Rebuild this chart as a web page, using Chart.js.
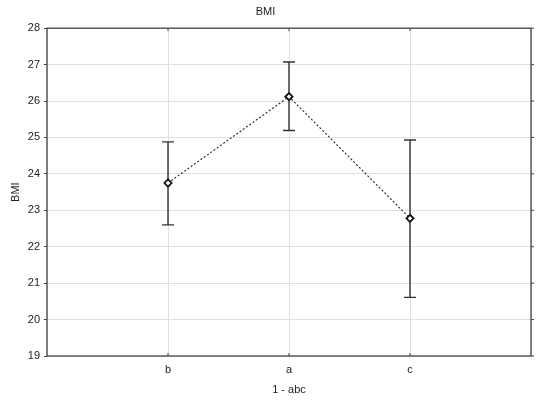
<!DOCTYPE html>
<html>
<head>
<meta charset="utf-8">
<script src="https://cdn.jsdelivr.net/npm/chart.js@4"></script>
<style>
  html, body { margin: 0; padding: 0; background: #fff; }
</style>
</head>
<body>
<canvas id="chart" width="550" height="407"></canvas>
<script>
const categories = ['b', 'a', 'c'];
const means = [23.75, 26.12, 22.78];
const lows = [22.60, 25.19, 20.61];
const highs = [24.88, 27.07, 24.93];
const yTicks = [19, 20, 21, 22, 23, 24, 25, 26, 27, 28];

const FONT = 'Liberation Sans, Arial, sans-serif';
const TEXT = '#222';

// category i sits at x = i + 1 on a 0..4 axis
const points = means.map((v, i) => ({ x: i + 1, y: v }));

const frame = {
    id: 'frame',
    afterDatasetsDraw(chart) {
        const { ctx, chartArea: a, scales } = chart;
        ctx.save();
        // error bars
        ctx.strokeStyle = '#333';
        ctx.lineWidth = 1.4;
        categories.forEach((c, i) => {
            const x = scales.x.getPixelForValue(i + 1);
            const yl = scales.y.getPixelForValue(lows[i]);
            const yh = scales.y.getPixelForValue(highs[i]);
            ctx.beginPath();
            ctx.moveTo(x, yl); ctx.lineTo(x, yh);
            ctx.moveTo(x - 6, yl); ctx.lineTo(x + 6, yl);
            ctx.moveTo(x - 6, yh); ctx.lineTo(x + 6, yh);
            ctx.stroke();
        });
        // border
        ctx.strokeStyle = '#444';
        ctx.lineWidth = 1.3;
        ctx.strokeRect(a.left, a.top, a.right - a.left, a.bottom - a.top);
        // small ticks on right and top edges
        ctx.lineWidth = 1;
        yTicks.forEach(t => {
            const y = scales.y.getPixelForValue(t);
            ctx.beginPath(); ctx.moveTo(a.right, y); ctx.lineTo(a.right + 3, y); ctx.stroke();
        });
        categories.forEach((c, i) => {
            const x = scales.x.getPixelForValue(i + 1);
            ctx.beginPath(); ctx.moveTo(x, a.top); ctx.lineTo(x, a.top + 3); ctx.stroke();
            ctx.beginPath(); ctx.moveTo(x, a.bottom); ctx.lineTo(x, a.bottom - 3); ctx.stroke();
        });
        ctx.restore();
        // redraw points above the bars
        chart.getDatasetMeta(0).data.forEach(el => el.draw(ctx, a));
    }
};

new Chart(document.getElementById('chart'), {
    type: 'line',
    data: {
        datasets: [{
            data: points,
            borderColor: '#333',
            borderWidth: 1.2,
            borderDash: [2, 2],
            pointStyle: 'rectRot',
            pointRadius: 3.5,
            pointBackgroundColor: '#fff',
            pointBorderColor: '#111',
            pointBorderWidth: 1.6,
            tension: 0
        }]
    },
    options: {
        responsive: false,
        animation: false,
        events: [],
        layout: { padding: { top: 0, right: 19, bottom: 6, left: 0 } },
        plugins: {
            legend: { display: false },
            tooltip: { enabled: false },
            title: {
                display: true,
                text: 'BMI',
                color: TEXT,
                font: { family: FONT, size: 11, weight: 'normal' },
                padding: { top: 5, bottom: 10 }
            }
        },
        scales: {
            x: {
                type: 'linear',
                min: 0,
                max: 4,
                afterBuildTicks(scale) {
                    scale.ticks = [0, 1, 2, 3, 4].map(v => ({ value: v }));
                },
                afterFit(scale) { scale.height = 45; },
                grid: { color: '#e0e0e0', lineWidth: 1, drawTicks: false },
                border: { display: false },
                ticks: {
                    color: TEXT,
                    font: { family: FONT, size: 11 },
                    padding: 7,
                    maxRotation: 0,
                    autoSkip: false,
                    callback: v => categories[v - 1] || ''
                },
                title: {
                    display: true,
                    text: '1 - abc',
                    color: TEXT,
                    font: { family: FONT, size: 11 },
                    padding: { top: 4, bottom: 4 }
                }
            },
            y: {
                min: 19,
                max: 28,
                afterBuildTicks(scale) {
                    scale.ticks = yTicks.map(v => ({ value: v }));
                },
                afterFit(scale) { scale.width = 47; },
                grid: { color: '#e0e0e0', lineWidth: 1, tickLength: 3, tickColor: '#444' },
                border: { display: false },
                ticks: {
                    color: TEXT,
                    font: { family: FONT, size: 11 },
                    padding: 4,
                    autoSkip: false
                },
                title: {
                    display: true,
                    text: 'BMI',
                    color: TEXT,
                    font: { family: FONT, size: 11 },
                    padding: { top: 9, bottom: 0 }
                }
            }
        }
    },
    plugins: [frame]
});
</script>
</body>
</html>
